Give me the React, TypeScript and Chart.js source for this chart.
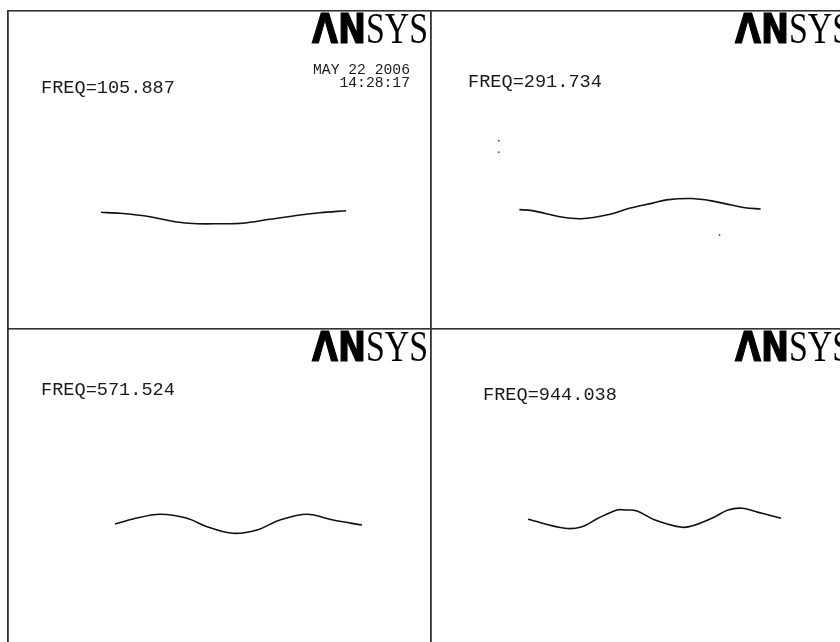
import React, { useEffect, useRef } from "react";
import { Chart, registerables } from "chart.js";

Chart.register(...registerables);

// ---- data (model units) ----
const freqLabels = ["FREQ=105.887", "FREQ=291.734", "FREQ=571.524", "FREQ=944.038"];
const dateLabel = "MAY 22 2006";
const timeLabel = "14:28:17";
const logoBold = "\u039BN";
const logoSerif = "SYS";

const mode1X = [94, 113, 143, 168, 190, 213, 235, 263, 293, 313, 339];
const mode1Y = [202.3, 203.3, 206.7, 211.7, 213.7, 213.7, 213.3, 209.3, 205, 202.7, 200.7];

const mode2X = [87, 100, 130, 150, 177, 200, 223, 237, 262, 283, 303, 317, 333];
const mode2Y = [200.7, 201.7, 208.3, 210, 206, 199, 194, 190.7, 189.3, 191.7, 196, 198.7, 200];
const mode2DotsX = [66, 66, 291];
const mode2DotsY = [130, 141.7, 226.7];

const mode3X = [108, 126, 153, 180, 200, 226, 250, 273, 300, 326, 355];
const mode3Y = [196, 191, 186.3, 190.3, 198.7, 205.3, 202, 192, 186.3, 192, 197];

const mode4X = [98, 135, 152, 168, 187, 195, 207, 225, 252, 265, 285, 298, 312, 332, 351];
const mode4Y = [191.3, 200.3, 198.7, 190.3, 182, 182, 183, 192, 199.3, 197, 188.7, 182, 180.3, 185.3, 190.3];

// ---- layout ----
const PANEL_W = 423;
const COL_X = [7, 430];
const ROW_Y = [10, 328];
const ROW_H = [318, 314];

type PanelDef = {
  col: number;
  row: number;
  xs: number[];
  ys: number[];
  dotsX?: number[];
  dotsY?: number[];
  freq: string;
  freqX: number;
  freqY: number;
  showDate: boolean;
};

const panels: PanelDef[] = [
  { col: 0, row: 0, xs: mode1X, ys: mode1Y, freq: freqLabels[0], freqX: 34, freqY: 83, showDate: true },
  { col: 1, row: 0, xs: mode2X, ys: mode2Y, dotsX: mode2DotsX, dotsY: mode2DotsY, freq: freqLabels[1], freqX: 38, freqY: 77, showDate: false },
  { col: 0, row: 1, xs: mode3X, ys: mode3Y, freq: freqLabels[2], freqX: 34, freqY: 67, showDate: false },
  { col: 1, row: 1, xs: mode4X, ys: mode4Y, freq: freqLabels[3], freqX: 53, freqY: 72, showDate: false },
];

function drawLogo(ctx: CanvasRenderingContext2D, left: number, base: number) {
  const boldW = 54;
  const serifW = 62;
  ctx.save();
  ctx.fillStyle = "#000";
  ctx.textAlign = "left";
  ctx.textBaseline = "alphabetic";
  ctx.font = "bold 41px 'DejaVu Sans'";
  const wb = ctx.measureText(logoBold).width;
  ctx.save();
  ctx.translate(left, base);
  ctx.scale(boldW / wb, 1);
  ctx.fillText(logoBold, 0, 0);
  ctx.strokeStyle = "#000";
  ctx.lineWidth = 1.2;
  ctx.strokeText(logoBold, 0, 0);
  ctx.restore();
  ctx.font = "44px 'Liberation Serif'";
  const ws = ctx.measureText(logoSerif).width;
  ctx.save();
  ctx.translate(left + boldW, base);
  ctx.scale(serifW / ws, 1);
  ctx.fillText(logoSerif, 0, 0);
  ctx.restore();
  ctx.restore();
}

const decorPlugin = {
  id: "ansysDecor",
  afterDraw(chart: any, _args: any, opts: any) {
    const ctx: CanvasRenderingContext2D = chart.ctx;
    const w = chart.width;
    const h = chart.height;
    ctx.save();
    ctx.fillStyle = "#333";
    ctx.fillRect(0, 0, w, 1.6);
    ctx.fillRect(0, 0, 1.8, h);
    drawLogo(ctx, 305, 33);
    ctx.fillStyle = "#1a1a1a";
    ctx.textBaseline = "alphabetic";
    ctx.textAlign = "left";
    ctx.font = "18.6px 'Liberation Mono'";
    ctx.fillText(opts.freq, opts.freqX, opts.freqY);
    if (opts.showDate) {
      ctx.textAlign = "right";
      ctx.font = "14.7px 'Liberation Mono'";
      ctx.fillText(dateLabel, 403, 64);
      ctx.fillText(timeLabel, 403, 77);
    }
    ctx.restore();
  },
};

function Panel({ def }: { def: PanelDef }) {
  const ref = useRef<HTMLCanvasElement | null>(null);
  const h = ROW_H[def.row];
  useEffect(() => {
    if (!ref.current) return;
    const datasets: any[] = [
      {
        type: "line",
        data: def.xs.map((x, i) => ({ x, y: def.ys[i] })),
        borderColor: "#111",
        borderWidth: 1.6,
        pointRadius: 0,
        tension: 0.35,
        fill: false,
      },
    ];
    if (def.dotsX && def.dotsY) {
      datasets.push({
        type: "scatter",
        data: def.dotsX.map((x, i) => ({ x, y: def.dotsY![i] })),
        backgroundColor: "#555",
        borderWidth: 0,
        pointRadius: 0.9,
        showLine: false,
      });
    }
    const chart = new Chart(ref.current, {
      type: "line",
      data: { datasets },
      options: {
        responsive: false,
        animation: false,
        events: [],
        layout: { padding: 0 },
        plugins: {
          legend: { display: false },
          tooltip: { enabled: false },
          ansysDecor: {
            freq: def.freq,
            freqX: def.freqX,
            freqY: def.freqY,
            showDate: def.showDate,
          },
        } as any,
        scales: {
          x: { type: "linear", display: false, min: 0, max: PANEL_W },
          y: { type: "linear", display: false, min: 0, max: h, reverse: true },
        },
      },
      plugins: [decorPlugin as any],
    });
    return () => chart.destroy();
  }, []);
  return (
    <canvas
      ref={ref}
      width={PANEL_W}
      height={h}
      style={{
        position: "absolute",
        left: COL_X[def.col],
        top: ROW_Y[def.row],
        width: PANEL_W,
        height: h,
      }}
    />
  );
}

export default function App() {
  return (
    <div
      style={{
        position: "absolute",
        left: 0,
        top: 0,
        width: 840,
        height: 642,
        overflow: "hidden",
        background: "#fff",
      }}
    >
      {panels.map((p, i) => (
        <Panel key={i} def={p} />
      ))}
    </div>
  );
}
